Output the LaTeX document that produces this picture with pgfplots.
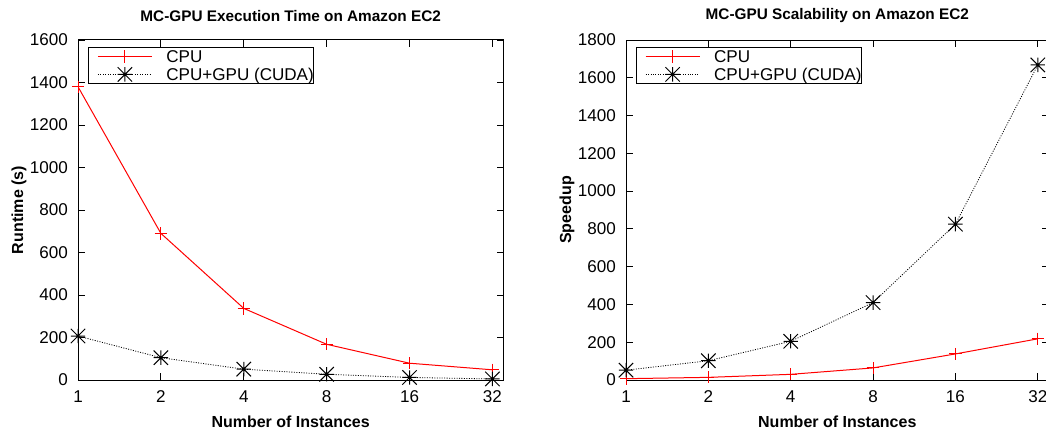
\documentclass[border=0pt]{standalone}
\usepackage{fontspec}
\setmainfont{Liberation Sans}
\usepackage{pgfplots}
\pgfplotsset{compat=1.18}
\pgfdeclareplotmark{gpstar}{%
  \pgfpathmoveto{\pgfqpoint{-\pgfplotmarksize}{0pt}}\pgfpathlineto{\pgfqpoint{\pgfplotmarksize}{0pt}}%
  \pgfpathmoveto{\pgfqpoint{0pt}{-\pgfplotmarksize}}\pgfpathlineto{\pgfqpoint{0pt}{\pgfplotmarksize}}%
  \pgfpathmoveto{\pgfqpoint{-\pgfplotmarksize}{-\pgfplotmarksize}}\pgfpathlineto{\pgfqpoint{\pgfplotmarksize}{\pgfplotmarksize}}%
  \pgfpathmoveto{\pgfqpoint{-\pgfplotmarksize}{\pgfplotmarksize}}\pgfpathlineto{\pgfqpoint{\pgfplotmarksize}{-\pgfplotmarksize}}%
  \pgfusepathqstroke}
\pgfplotsset{
  legend image code/.code={%
    \path (-6.75pt,0pt) (51pt,0pt);
    \draw[mark repeat=2,mark phase=2,#1] plot coordinates {(0pt,0pt) (20.25pt,0pt) (40.5pt,0pt)};},
  cpu/.style={red, line width=0.75pt, mark=+, mark size=4.6pt, mark options={solid, line width=0.75pt}},
  gpu/.style={black, line width=0.6pt, dash pattern=on 0.75pt off 1.1pt, mark=gpstar, mark size=5.4pt, mark options={solid, line width=0.75pt}},
}
\pgfplotsset{gp/.style={
  scale only axis, height=255pt,
  xmin=1, xmax=35.05,
  xtick={1,2,4,8,16,32}, xticklabels={1,2,4,8,16,32},
  xminorticks=false, yminorticks=false,
  ymin=0, ytick distance=200,
  tick align=inside, major tick length=5pt,
  tick style={black, line width=0.6pt},
  axis line style={black, line width=0.75pt},
  ticklabel style={font=\fontsize{12.8}{15}\selectfont},
  /pgf/number format/assume math mode=true,
  scaled y ticks=false,
  yticklabel style={/pgf/number format/1000 sep={}, xshift=-4pt},
  xticklabel style={yshift=-4.5pt},
  label style={font=\bfseries\fontsize{12}{14}\selectfont},
  title style={font=\bfseries\fontsize{11.5}{13}\selectfont, at={([yshift=12pt]axis description cs:0.5,1)}, anchor=center},
  xlabel style={at={([yshift=-31.3pt]axis description cs:0.5,0)}, anchor=center},
  ylabel style={at={([xshift=-44.3pt]axis description cs:0,0.5)}, anchor=center},
  legend cell align=left,
  legend style={draw=black, line width=0.6pt, inner xsep=0pt, inner ysep=0pt,
    font=\fontsize{12.8}{15}\selectfont, row sep=0pt,
    nodes={inner sep=0pt, text height=11.5pt, text depth=2pt}},
}}
\begin{document}
\begin{tikzpicture}
\begin{axis}[xmode=log, log basis x=2, gp, at={(58.5pt,39.75pt)}, anchor=south west, width=318.98pt,
  ymax=1600,
  title={MC-GPU Execution Time on Amazon EC2},
  xlabel={Number of Instances}, ylabel={Runtime (s)},
  legend style={at={(rel axis cs:0.0235,0.9794)}, anchor=north west}]
\addplot[cpu] coordinates {(1,1380) (2,690) (4,337) (8,168) (16,79) (32,48)};
\addlegendentry{CPU\hspace{9pt}}
\addplot[gpu] coordinates {(1,207) (2,105) (4,51) (8,27) (16,12) (32,5)};
\addlegendentry{CPU+GPU (CUDA)\hspace{9pt}}
\end{axis}
\begin{axis}[xmode=log, log basis x=2, gp, at={(469.5pt,39.75pt)}, anchor=south west, width=316.95pt,
  ymax=1800,
  title={MC-GPU Scalability on Amazon EC2},
  xlabel={Number of Instances}, ylabel={Speedup},
  legend style={at={(rel axis cs:0.023,0.9794)}, anchor=north west}]
\addplot[cpu] coordinates {(1,7) (2,14) (4,30) (8,64) (16,138) (32,218)};
\addlegendentry{CPU\hspace{9pt}}
\addplot[gpu] coordinates {(1,52) (2,102) (4,205) (8,410) (16,825) (32,1668)};
\addlegendentry{CPU+GPU (CUDA)\hspace{9pt}}
\end{axis}
\pgfresetboundingbox
\path[use as bounding box] (0pt,0pt) rectangle (784.5pt,324.75pt);
\end{tikzpicture}
\end{document}
